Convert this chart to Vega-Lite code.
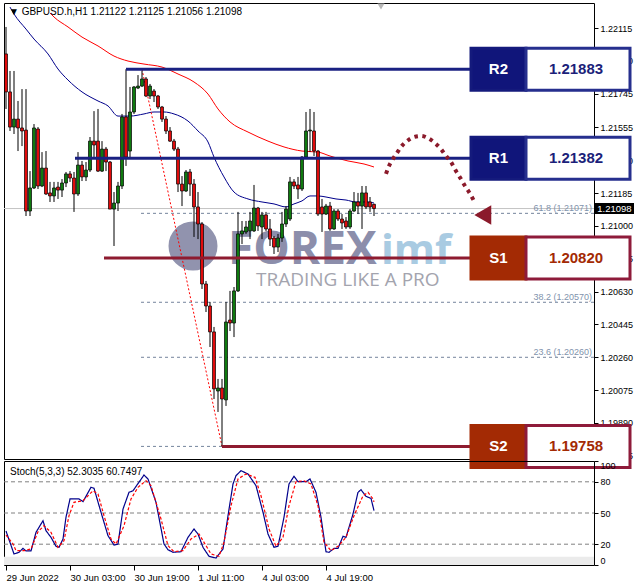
{
  "$schema": "https://vega.github.io/schema/vega-lite/v6.json",
  "background": "white",
  "padding": {"left": 3, "top": 2, "right": 0, "bottom": 0},
  "autosize": {"type": "pad"},
  "spacing": 2,
  "bounds": "flush",
  "config": {
    "view": {"stroke": "#000000", "strokeWidth": 1},
    "font": "Liberation Sans",
    "axis": {"grid": false, "domain": false, "tickColor": "#000000", "labelColor": "#000000", "labelFont": "Liberation Sans", "labelOverlap": false, "labelBound": false}
  },
  "datasets": {
    "candles": [
      {"i":0,"o":1.21969,"h":1.22121,"l":1.21659,"c":1.21755},
      {"i":1,"o":1.21755,"h":1.21873,"l":1.21535,"c":1.21557},
      {"i":2,"o":1.21557,"h":1.21873,"l":1.21518,"c":1.21602},
      {"i":3,"o":1.21602,"h":1.21704,"l":1.21422,"c":1.21552},
      {"i":4,"o":1.21552,"h":1.21771,"l":1.21450,"c":1.21535},
      {"i":5,"o":1.21540,"h":1.21771,"l":1.21056,"c":1.21084},
      {"i":6,"o":1.21084,"h":1.21309,"l":1.21056,"c":1.21214},
      {"i":7,"o":1.21214,"h":1.21574,"l":1.21208,"c":1.21552},
      {"i":8,"o":1.21546,"h":1.21557,"l":1.21208,"c":1.21225},
      {"i":9,"o":1.21225,"h":1.21416,"l":1.21219,"c":1.21326},
      {"i":10,"o":1.21326,"h":1.21422,"l":1.21175,"c":1.21180},
      {"i":11,"o":1.21186,"h":1.21248,"l":1.21135,"c":1.21169},
      {"i":12,"o":1.21169,"h":1.21248,"l":1.21135,"c":1.21214},
      {"i":13,"o":1.21219,"h":1.21248,"l":1.21152,"c":1.21202},
      {"i":14,"o":1.21202,"h":1.21264,"l":1.21163,"c":1.21242},
      {"i":15,"o":1.21242,"h":1.21304,"l":1.21219,"c":1.21293},
      {"i":16,"o":1.21293,"h":1.21309,"l":1.21248,"c":1.21270},
      {"i":17,"o":1.21270,"h":1.21304,"l":1.21079,"c":1.21180},
      {"i":18,"o":1.21180,"h":1.21416,"l":1.21169,"c":1.21343},
      {"i":19,"o":1.21343,"h":1.21366,"l":1.21253,"c":1.21276},
      {"i":20,"o":1.21276,"h":1.21360,"l":1.21253,"c":1.21315},
      {"i":21,"o":1.21315,"h":1.21501,"l":1.21304,"c":1.21478},
      {"i":22,"o":1.21478,"h":1.21647,"l":1.21377,"c":1.21456},
      {"i":23,"o":1.21478,"h":1.21659,"l":1.21304,"c":1.21309},
      {"i":24,"o":1.21309,"h":1.21478,"l":1.21304,"c":1.21433},
      {"i":25,"o":1.21433,"h":1.21445,"l":1.21309,"c":1.21360},
      {"i":26,"o":1.21360,"h":1.21366,"l":1.21095,"c":1.21095},
      {"i":27,"o":1.21095,"h":1.21191,"l":1.20887,"c":1.21129},
      {"i":28,"o":1.21129,"h":1.21248,"l":1.21084,"c":1.21225},
      {"i":29,"o":1.21225,"h":1.21631,"l":1.21208,"c":1.21614},
      {"i":30,"o":1.21614,"h":1.21883,"l":1.21338,"c":1.21388},
      {"i":31,"o":1.21422,"h":1.21783,"l":1.21377,"c":1.21642},
      {"i":32,"o":1.21642,"h":1.21788,"l":1.21631,"c":1.21783},
      {"i":33,"o":1.21777,"h":1.21850,"l":1.21771,"c":1.21788},
      {"i":34,"o":1.21788,"h":1.21875,"l":1.21783,"c":1.21828},
      {"i":35,"o":1.21828,"h":1.21839,"l":1.21726,"c":1.21732},
      {"i":36,"o":1.21732,"h":1.21800,"l":1.21715,"c":1.21788},
      {"i":37,"o":1.21760,"h":1.21771,"l":1.21698,"c":1.21732},
      {"i":38,"o":1.21732,"h":1.21738,"l":1.21659,"c":1.21670},
      {"i":39,"o":1.21670,"h":1.21676,"l":1.21586,"c":1.21602},
      {"i":40,"o":1.21602,"h":1.21619,"l":1.21518,"c":1.21535},
      {"i":41,"o":1.21535,"h":1.21557,"l":1.21473,"c":1.21478},
      {"i":42,"o":1.21478,"h":1.21490,"l":1.21422,"c":1.21433},
      {"i":43,"o":1.21433,"h":1.21445,"l":1.21191,"c":1.21236},
      {"i":44,"o":1.21236,"h":1.21281,"l":1.21112,"c":1.21197},
      {"i":45,"o":1.21197,"h":1.21315,"l":1.21191,"c":1.21304},
      {"i":46,"o":1.21304,"h":1.21321,"l":1.21169,"c":1.21236},
      {"i":47,"o":1.21236,"h":1.21264,"l":1.20938,"c":1.21107},
      {"i":48,"o":1.21107,"h":1.21191,"l":1.20926,"c":1.21011},
      {"i":49,"o":1.21011,"h":1.21022,"l":1.20645,"c":1.20673},
      {"i":50,"o":1.20673,"h":1.20690,"l":1.20515,"c":1.20549},
      {"i":51,"o":1.20549,"h":1.20572,"l":1.20318,"c":1.20403},
      {"i":52,"o":1.20403,"h":1.20431,"l":1.20025,"c":1.20082},
      {"i":53,"o":1.20070,"h":1.20138,"l":1.19952,"c":1.20087},
      {"i":54,"o":1.20087,"h":1.20138,"l":1.19758,"c":1.20025},
      {"i":55,"o":1.20020,"h":1.20572,"l":1.19986,"c":1.20459},
      {"i":56,"o":1.20470,"h":1.20634,"l":1.20408,"c":1.20453},
      {"i":57,"o":1.20453,"h":1.20656,"l":1.20374,"c":1.20634},
      {"i":58,"o":1.20634,"h":1.21079,"l":1.20628,"c":1.20955},
      {"i":59,"o":1.20955,"h":1.21028,"l":1.20898,"c":1.20972},
      {"i":60,"o":1.20966,"h":1.21028,"l":1.20955,"c":1.20994},
      {"i":61,"o":1.20972,"h":1.21079,"l":1.20926,"c":1.21028},
      {"i":62,"o":1.20972,"h":1.21231,"l":1.20966,"c":1.21101},
      {"i":63,"o":1.21101,"h":1.21107,"l":1.20972,"c":1.21000},
      {"i":64,"o":1.20994,"h":1.21079,"l":1.20926,"c":1.21062},
      {"i":65,"o":1.21062,"h":1.21079,"l":1.20972,"c":1.20983},
      {"i":66,"o":1.20983,"h":1.21039,"l":1.20887,"c":1.20926},
      {"i":67,"o":1.20932,"h":1.20943,"l":1.20842,"c":1.20881},
      {"i":68,"o":1.20881,"h":1.20955,"l":1.20853,"c":1.20932},
      {"i":69,"o":1.20932,"h":1.21079,"l":1.20910,"c":1.21011},
      {"i":70,"o":1.21011,"h":1.21112,"l":1.20994,"c":1.21095},
      {"i":71,"o":1.21039,"h":1.21276,"l":1.21028,"c":1.21248},
      {"i":72,"o":1.21248,"h":1.21264,"l":1.21208,"c":1.21225},
      {"i":73,"o":1.21231,"h":1.21276,"l":1.21152,"c":1.21208},
      {"i":74,"o":1.21208,"h":1.21394,"l":1.21197,"c":1.21388},
      {"i":75,"o":1.21388,"h":1.21642,"l":1.21377,"c":1.21535},
      {"i":76,"o":1.21535,"h":1.21659,"l":1.21416,"c":1.21540},
      {"i":77,"o":1.21535,"h":1.21642,"l":1.21394,"c":1.21422},
      {"i":78,"o":1.21422,"h":1.21428,"l":1.21056,"c":1.21067},
      {"i":79,"o":1.21107,"h":1.21152,"l":1.20966,"c":1.21067},
      {"i":80,"o":1.21067,"h":1.21124,"l":1.21062,"c":1.21112},
      {"i":81,"o":1.21112,"h":1.21135,"l":1.20972,"c":1.20983},
      {"i":82,"o":1.20983,"h":1.21095,"l":1.20978,"c":1.21084},
      {"i":83,"o":1.21084,"h":1.21095,"l":1.21028,"c":1.21039},
      {"i":84,"o":1.21039,"h":1.21067,"l":1.20983,"c":1.21017},
      {"i":85,"o":1.21028,"h":1.21050,"l":1.20983,"c":1.20994},
      {"i":86,"o":1.20994,"h":1.21095,"l":1.20983,"c":1.21084},
      {"i":87,"o":1.21084,"h":1.21191,"l":1.21079,"c":1.21135},
      {"i":88,"o":1.21135,"h":1.21186,"l":1.21067,"c":1.21112},
      {"i":89,"o":1.21112,"h":1.21225,"l":1.20983,"c":1.21186},
      {"i":90,"o":1.21186,"h":1.21225,"l":1.21095,"c":1.21107},
      {"i":91,"o":1.21135,"h":1.21163,"l":1.21079,"c":1.21107},
      {"i":92,"o":1.21122,"h":1.21125,"l":1.21056,"c":1.21098}
    ],
    "ma": [
      {"s":"fast","i":1,"v":1.22233},{"s":"fast","i":2,"v":1.22194},{"s":"fast","i":5,"v":1.22109},
      {"s":"fast","i":7,"v":1.22053},{"s":"fast","i":10.5,"v":1.21969},{"s":"fast","i":13,"v":1.21884},
      {"s":"fast","i":15.5,"v":1.21822},{"s":"fast","i":19,"v":1.21755},{"s":"fast","i":23,"v":1.21704},
      {"s":"fast","i":25.5,"v":1.21676},{"s":"fast","i":28,"v":1.21619},{"s":"fast","i":31,"v":1.21619},
      {"s":"fast","i":34.5,"v":1.21631},{"s":"fast","i":37,"v":1.21642},{"s":"fast","i":39.5,"v":1.21642},
      {"s":"fast","i":42,"v":1.21631},{"s":"fast","i":45.5,"v":1.21591},{"s":"fast","i":48,"v":1.21535},
      {"s":"fast","i":50.5,"v":1.21473},{"s":"fast","i":52,"v":1.21388},{"s":"fast","i":54.5,"v":1.21276},
      {"s":"fast","i":57,"v":1.21191},{"s":"fast","i":60.5,"v":1.21152},{"s":"fast","i":64,"v":1.21135},
      {"s":"fast","i":67,"v":1.21124},{"s":"fast","i":70,"v":1.21107},{"s":"fast","i":72,"v":1.21124},
      {"s":"fast","i":74,"v":1.21141},{"s":"fast","i":76,"v":1.21169},{"s":"fast","i":78,"v":1.21169},
      {"s":"fast","i":80,"v":1.21163},{"s":"fast","i":82.5,"v":1.21152},{"s":"fast","i":85,"v":1.21146},
      {"s":"fast","i":87.5,"v":1.21135},{"s":"fast","i":90.5,"v":1.21135},{"s":"fast","i":92,"v":1.21129},
      {"s":"slow","i":11,"v":1.22200},{"s":"slow","i":12,"v":1.22177},{"s":"slow","i":15.5,"v":1.22121},
      {"s":"slow","i":19,"v":1.22064},{"s":"slow","i":23,"v":1.22014},{"s":"slow","i":27,"v":1.21957},
      {"s":"slow","i":30.5,"v":1.21929},{"s":"slow","i":34.5,"v":1.21912},{"s":"slow","i":39,"v":1.21895},
      {"s":"slow","i":43,"v":1.21856},{"s":"slow","i":47,"v":1.21811},{"s":"slow","i":50.5,"v":1.21743},
      {"s":"slow","i":53,"v":1.21659},{"s":"slow","i":56,"v":1.21586},{"s":"slow","i":60.5,"v":1.21529},
      {"s":"slow","i":65.5,"v":1.21478},{"s":"slow","i":69.5,"v":1.21445},{"s":"slow","i":74,"v":1.21422},
      {"s":"slow","i":78,"v":1.21416},{"s":"slow","i":81,"v":1.21394},{"s":"slow","i":85.5,"v":1.21366},
      {"s":"slow","i":89.5,"v":1.21349},{"s":"slow","i":92,"v":1.21332}
    ],
    "levels": [
      {"name":"R2","level":1.21883,"start":30,"kind":"R"},
      {"name":"R1","level":1.21382,"start":17.25,"kind":"R"},
      {"name":"S1","level":1.20820,"start":24.5,"kind":"S"},
      {"name":"S2","level":1.19758,"start":54,"kind":"S"}
    ],
    "fib": [
      {"level":1.21883},{"level":1.21071},{"level":1.20820},{"level":1.20570},{"level":1.20260},{"level":1.19758}
    ],
    "fibLabels": [
      {"level":1.21071,"label":"61.8 (1.21071)"},
      {"level":1.20570,"label":"38.2 (1.20570)"},
      {"level":1.20260,"label":"23.6 (1.20260)"}
    ],
    "trend": [
      {"i":34,"p":1.21883},
      {"i":54,"p":1.19758}
    ],
    "arc": [
      {"i":95,"p":1.21293},{"i":95.75,"p":1.21338},{"i":96.75,"p":1.21377},{"i":97.75,"p":1.21411},
      {"i":98.75,"p":1.21445},{"i":100.25,"p":1.21478},{"i":102,"p":1.21501},{"i":103.75,"p":1.21507},
      {"i":105.5,"p":1.21495},{"i":107.25,"p":1.21467},{"i":108.75,"p":1.21433},{"i":110,"p":1.21394},
      {"i":111.25,"p":1.21360},{"i":112.5,"p":1.21309},{"i":113.75,"p":1.21264},{"i":114.75,"p":1.21225},
      {"i":115.75,"p":1.21191},{"i":117,"p":1.21141}
    ],
    "stoch": [
      {"s":"main","i":0,"v":32.7},{"s":"main","i":2,"v":10.6},{"s":"main","i":3.25,"v":12.2},
      {"s":"main","i":4.25,"v":16},{"s":"main","i":5,"v":13.5},{"s":"main","i":6.25,"v":13.5},
      {"s":"main","i":7.5,"v":31.4},{"s":"main","i":9.25,"v":42.6},{"s":"main","i":10,"v":33},
      {"s":"main","i":11.25,"v":26.6},{"s":"main","i":12.5,"v":18},{"s":"main","i":13.25,"v":17},
      {"s":"main","i":14.25,"v":25},{"s":"main","i":15,"v":45.9},{"s":"main","i":16,"v":63.5},
      {"s":"main","i":18.25,"v":63.5},{"s":"main","i":19.25,"v":60.9},{"s":"main","i":21.25,"v":74.7},
      {"s":"main","i":22,"v":73.8},{"s":"main","i":23.75,"v":50.7},{"s":"main","i":25.5,"v":28.2},
      {"s":"main","i":27,"v":19.2},{"s":"main","i":28,"v":20.2},{"s":"main","i":29.25,"v":53.8},
      {"s":"main","i":30.75,"v":69.9},{"s":"main","i":31.75,"v":71.4},{"s":"main","i":34.5,"v":86.5},
      {"s":"main","i":35.5,"v":82.7},{"s":"main","i":37.5,"v":60.3},{"s":"main","i":39.5,"v":20.2},
      {"s":"main","i":40.5,"v":14.7},{"s":"main","i":41.75,"v":12.2},{"s":"main","i":43.75,"v":12.8},
      {"s":"main","i":45.5,"v":26.6},{"s":"main","i":47,"v":34.6},{"s":"main","i":48,"v":29.8},
      {"s":"main","i":49.25,"v":17},{"s":"main","i":50.75,"v":8.4},{"s":"main","i":52.5,"v":6.7},
      {"s":"main","i":54.25,"v":15.4},{"s":"main","i":55.5,"v":47.4},{"s":"main","i":56.75,"v":77.9},
      {"s":"main","i":57.5,"v":85.9},{"s":"main","i":58.75,"v":90.7},{"s":"main","i":60.5,"v":87.5},
      {"s":"main","i":62.5,"v":76.3},{"s":"main","i":64.25,"v":50.7},{"s":"main","i":65.5,"v":29.8},
      {"s":"main","i":67,"v":17},{"s":"main","i":68,"v":18},{"s":"main","i":69.5,"v":45.9},
      {"s":"main","i":70.75,"v":77.9},{"s":"main","i":72,"v":85.3},{"s":"main","i":73,"v":80.1},
      {"s":"main","i":75,"v":80.1},{"s":"main","i":76,"v":82.7},{"s":"main","i":77.5,"v":69.9},
      {"s":"main","i":78.75,"v":45.9},{"s":"main","i":80,"v":12.8},{"s":"main","i":80.75,"v":12.2},
      {"s":"main","i":82,"v":16},{"s":"main","i":83,"v":16},{"s":"main","i":84.25,"v":27.6},
      {"s":"main","i":85,"v":26.6},{"s":"main","i":86.75,"v":49},{"s":"main","i":88,"v":69.9},
      {"s":"main","i":88.75,"v":72.4},{"s":"main","i":90,"v":66},{"s":"main","i":91.25,"v":64.1},
      {"s":"main","i":92,"v":52.3},
      {"s":"signal","i":0,"v":28.8},{"s":"signal","i":1.75,"v":20.2},{"s":"signal","i":2.5,"v":13.8},
      {"s":"signal","i":4.5,"v":13.8},{"s":"signal","i":6.25,"v":15.4},{"s":"signal","i":8,"v":32},
      {"s":"signal","i":9.5,"v":37.8},{"s":"signal","i":11.25,"v":31.4},{"s":"signal","i":13,"v":17},
      {"s":"signal","i":14.5,"v":23.4},{"s":"signal","i":15.75,"v":47.4},{"s":"signal","i":17,"v":60.3},
      {"s":"signal","i":19.25,"v":61.8},{"s":"signal","i":21.75,"v":71.4},{"s":"signal","i":23,"v":68.3},
      {"s":"signal","i":24.5,"v":47.4},{"s":"signal","i":26.25,"v":25},{"s":"signal","i":27.5,"v":20.2},
      {"s":"signal","i":29.5,"v":37.8},{"s":"signal","i":31.25,"v":63.5},{"s":"signal","i":33,"v":74.7},
      {"s":"signal","i":35,"v":81},{"s":"signal","i":36.25,"v":76.3},{"s":"signal","i":38.75,"v":44.2},
      {"s":"signal","i":40.5,"v":18.6},{"s":"signal","i":42,"v":12.8},{"s":"signal","i":44.25,"v":13.8},
      {"s":"signal","i":46.25,"v":25},{"s":"signal","i":48.25,"v":29.8},{"s":"signal","i":49.5,"v":21.8},
      {"s":"signal","i":51.25,"v":10.6},{"s":"signal","i":53.25,"v":8.4},{"s":"signal","i":54.5,"v":21.8},
      {"s":"signal","i":56.25,"v":57},{"s":"signal","i":58,"v":82.7},{"s":"signal","i":60,"v":87.5},
      {"s":"signal","i":62.25,"v":84.3},{"s":"signal","i":63.75,"v":66.6},{"s":"signal","i":65.75,"v":34.6},
      {"s":"signal","i":67.5,"v":18},{"s":"signal","i":69.25,"v":26.6},{"s":"signal","i":70.75,"v":57},
      {"s":"signal","i":72.5,"v":80.1},{"s":"signal","i":74.5,"v":81},{"s":"signal","i":76.25,"v":77.9},
      {"s":"signal","i":78,"v":57},{"s":"signal","i":79.5,"v":21.8},{"s":"signal","i":81.25,"v":13.8},
      {"s":"signal","i":83,"v":18},{"s":"signal","i":85,"v":26.6},{"s":"signal","i":87,"v":47.4},
      {"s":"signal","i":89.25,"v":66.6},{"s":"signal","i":90.5,"v":69.9},{"s":"signal","i":91.75,"v":63.5},
      {"s":"signal","i":92,"v":60.7}
    ],
    "stochLevels": [{"lvl":20},{"lvl":50},{"lvl":80}]
  },
  "vconcat": [
    {
      "width": 590,
      "height": 456,
      "encoding": {
        "x": {"type": "quantitative", "scale": {"domain": [-0.5, 147], "nice": false, "zero": false, "padding": 0}, "axis": null},
        "y": {"type": "quantitative", "scale": {"domain": [1.19687, 1.22256], "nice": false, "zero": false, "padding": 0},
              "axis": {"orient": "right", "values": [1.22115, 1.2193, 1.21745, 1.21555, 1.2137, 1.21185, 1.21, 1.20815, 1.2063, 1.20445, 1.2026, 1.20075, 1.1989, 1.19705],
                       "format": ".5f", "title": null, "tickSize": 4, "labelFontSize": 9, "labelPadding": 2, "labelFlush": false}}
      },
      "layer": [
        {
          "data": {"values": [{}]},
          "mark": {"type": "point", "shape": "circle", "filled": true, "size": 2400, "color": "#9193ae", "opacity": 1},
          "encoding": {"x": {"datum": 46.75}, "y": {"datum": 1.20887}}
        },
        {
          "data": {"values": [{}]},
          "mark": {"type": "text", "text": "FOREX", "align": "left", "baseline": "alphabetic", "font": "Open Sans", "fontWeight": "bold", "fontSize": 46, "color": "#8c8eab"},
          "encoding": {"x": {"datum": 55.5}, "y": {"datum": 1.20786}}
        },
        {
          "data": {"values": [{}]},
          "mark": {"type": "text", "text": "imf", "align": "left", "baseline": "alphabetic", "font": "Open Sans", "fontWeight": "bold", "fontSize": 42, "color": "#a9cbe2"},
          "encoding": {"x": {"datum": 93.75}, "y": {"datum": 1.20786}}
        },
        {
          "data": {"values": [{}]},
          "mark": {"type": "text", "text": "TRADING LIKE A PRO", "align": "left", "baseline": "alphabetic", "font": "Open Sans", "fontWeight": "normal", "fontSize": 19, "color": "#a3a4ae"},
          "encoding": {"x": {"datum": 62.5}, "y": {"datum": 1.20662}}
        },
        {
          "data": {"values": [{}]},
          "mark": {"type": "rule", "color": "#c4c4c4", "strokeWidth": 1},
          "encoding": {"x": {"datum": -0.5}, "x2": {"datum": 147}, "y": {"datum": 1.21098}}
        },
        {
          "data": {"name": "fib"},
          "mark": {"type": "rule", "color": "#74849c", "strokeWidth": 1, "strokeDash": [3, 3]},
          "encoding": {"x": {"datum": 33.75}, "x2": {"datum": 147}, "y": {"field": "level"}}
        },
        {
          "data": {"name": "fibLabels"},
          "mark": {"type": "text", "align": "right", "baseline": "alphabetic", "dy": -2, "font": "Liberation Sans", "fontSize": 9, "color": "#7f93ad"},
          "encoding": {"x": {"datum": 146.5}, "y": {"field": "level"}, "text": {"field": "label"}}
        },
        {
          "data": {"name": "ma"},
          "mark": {"type": "line", "strokeWidth": 1, "interpolate": "monotone"},
          "encoding": {
            "x": {"field": "i"},
            "y": {"field": "v"},
            "color": {"field": "s", "type": "nominal", "scale": {"domain": ["fast", "slow"], "range": ["#00008b", "#ff0000"]}, "legend": null}
          }
        },
        {
          "data": {"name": "trend"},
          "mark": {"type": "line", "color": "#ff0000", "strokeWidth": 1, "strokeDash": [2, 2]},
          "encoding": {"x": {"field": "i"}, "y": {"field": "p"}}
        },
        {
          "data": {"name": "candles"},
          "mark": {"type": "rule", "color": "#000000", "strokeWidth": 1},
          "encoding": {"x": {"field": "i"}, "y": {"field": "l"}, "y2": {"field": "h"}}
        },
        {
          "data": {"name": "candles"},
          "mark": {"type": "bar", "size": 3, "stroke": "#000000", "strokeWidth": 0.7, "orient": "vertical"},
          "encoding": {
            "x": {"field": "i"},
            "y": {"field": "o"},
            "y2": {"field": "c"},
            "fill": {"condition": {"test": "datum.c >= datum.o", "value": "#0f7a0f"}, "value": "#e00b0b"}
          }
        },
        {
          "data": {"name": "levels"},
          "mark": {"type": "rule", "strokeWidth": 3},
          "encoding": {
            "x": {"field": "start"},
            "x2": {"datum": 116.25},
            "y": {"field": "level"},
            "color": {"condition": {"test": "datum.kind == 'R'", "value": "#1a2182"}, "value": "#8e1b30"}
          }
        },
        {
          "data": {"name": "arc"},
          "mark": {"type": "line", "color": "#8b1a2b", "strokeWidth": 4, "strokeDash": [3.5, 4.5], "interpolate": "monotone"},
          "encoding": {"x": {"field": "i"}, "y": {"field": "p"}}
        },
        {
          "data": {"values": [{}]},
          "mark": {"type": "point", "shape": "triangle-left", "filled": true, "size": 380, "color": "#8b1a2b", "opacity": 1},
          "encoding": {"x": {"datum": 119.2}, "y": {"datum": 1.21062}}
        },
        {
          "data": {"name": "levels"},
          "mark": {"type": "bar", "orient": "horizontal", "size": 42, "strokeWidth": 3},
          "encoding": {
            "x": {"datum": 116.25},
            "x2": {"datum": 130},
            "y": {"field": "level"},
            "fill": {"condition": {"test": "datum.kind == 'R'", "value": "#10157a"}, "value": "#a32a04"},
            "stroke": {"condition": {"test": "datum.kind == 'R'", "value": "#141a7c"}, "value": "#a32a04"}
          }
        },
        {
          "data": {"name": "levels"},
          "mark": {"type": "bar", "orient": "horizontal", "size": 42, "strokeWidth": 3, "fill": "#ffffff"},
          "encoding": {
            "x": {"datum": 130},
            "x2": {"datum": 156},
            "y": {"field": "level"},
            "stroke": {"condition": {"test": "datum.kind == 'R'", "value": "#262f8e"}, "value": "#8e1b3a"}
          }
        },
        {
          "data": {"name": "levels"},
          "mark": {"type": "text", "align": "center", "baseline": "middle", "font": "Liberation Sans", "fontWeight": "bold", "fontSize": 15, "color": "#ffffff"},
          "encoding": {"x": {"datum": 123.1}, "y": {"field": "level"}, "text": {"field": "name"}}
        },
        {
          "data": {"name": "levels"},
          "mark": {"type": "text", "align": "center", "baseline": "middle", "font": "Liberation Sans", "fontWeight": "bold", "fontSize": 15},
          "encoding": {
            "x": {"datum": 142.5},
            "y": {"field": "level"},
            "text": {"field": "level", "format": ".5f"},
            "color": {"condition": {"test": "datum.kind == 'R'", "value": "#1c1f7a"}, "value": "#a32a04"}
          }
        },
        {
          "data": {"values": [{}]},
          "mark": {"type": "bar", "orient": "horizontal", "size": 11, "color": "#000000"},
          "encoding": {"x": {"datum": 147.25}, "x2": {"datum": 157}, "y": {"datum": 1.21098}}
        },
        {
          "data": {"values": [{}]},
          "mark": {"type": "text", "text": "1.21098", "align": "center", "baseline": "middle", "font": "Liberation Sans", "fontSize": 9.5, "color": "#ffffff"},
          "encoding": {"x": {"datum": 152.1}, "y": {"datum": 1.21098}}
        },
        {
          "data": {"values": [{}]},
          "mark": {"type": "point", "shape": "triangle-down", "filled": true, "size": 50, "color": "#b8b8b8", "opacity": 1},
          "encoding": {"x": {"datum": 93.75}, "y": {"datum": 1.22236}}
        },
        {
          "data": {"values": [{}]},
          "mark": {"type": "text", "text": "▼ GBPUSD.h,H1  1.21122 1.21125 1.21056 1.21098", "align": "left", "baseline": "alphabetic", "font": "Liberation Sans, DejaVu Sans", "fontSize": 10, "color": "#000000"},
          "encoding": {"x": {"datum": 0.75}, "y": {"datum": 1.22188}}
        }
      ]
    },
    {
      "width": 590,
      "height": 104,
      "encoding": {
        "x": {"type": "quantitative", "scale": {"domain": [-0.5, 147], "nice": false, "zero": false, "padding": 0},
              "axis": {"orient": "bottom", "values": [0, 16, 32, 48, 64, 80],
                       "labelExpr": "datum.value == 0 ? '29 Jun 2022' : datum.value == 16 ? '30 Jun 03:00' : datum.value == 32 ? '30 Jun 19:00' : datum.value == 48 ? '1 Jul 11:00' : datum.value == 64 ? '4 Jul 03:00' : '4 Jul 19:00'",
                       "title": null, "tickSize": 5, "labelFontSize": 9.5, "labelAlign": "left", "labelPadding": 2, "labelFlush": false}},
        "y": {"type": "quantitative", "scale": {"domain": [0, 100], "nice": false, "zero": false, "padding": 0},
              "axis": {"orient": "right", "values": [0, 20, 50, 80, 100], "title": null, "tickSize": 4, "labelFontSize": 9, "labelPadding": 2, "labelFlush": true}}
      },
      "layer": [
        {
          "data": {"values": [{}]},
          "mark": {"type": "rect", "color": "#ebebeb"},
          "encoding": {"x": {"datum": -0.5}, "x2": {"datum": 147}, "y": {"datum": 0}, "y2": {"datum": 8}}
        },
        {
          "data": {"name": "stochLevels"},
          "mark": {"type": "rule", "color": "#808080", "strokeWidth": 1, "strokeDash": [4, 3]},
          "encoding": {"x": {"datum": -0.5}, "x2": {"datum": 147}, "y": {"field": "lvl"}}
        },
        {
          "data": {"name": "stoch"},
          "mark": {"type": "line", "strokeWidth": 1.2},
          "encoding": {
            "x": {"field": "i"},
            "y": {"field": "v"},
            "color": {"field": "s", "type": "nominal", "scale": {"domain": ["main", "signal"], "range": ["#0a0aa0", "#d40000"]}, "legend": null},
            "strokeDash": {"field": "s", "type": "nominal", "scale": {"domain": ["main", "signal"], "range": [[1, 0], [3, 2]]}, "legend": null}
          }
        },
        {
          "data": {"values": [{}]},
          "mark": {"type": "text", "text": "Stoch(5,3,3) 52.3035 60.7497", "align": "left", "baseline": "alphabetic", "font": "Liberation Sans", "fontSize": 10, "color": "#000000"},
          "encoding": {"x": {"datum": 1}, "y": {"datum": 86.5}}
        }
      ]
    }
  ]
}
